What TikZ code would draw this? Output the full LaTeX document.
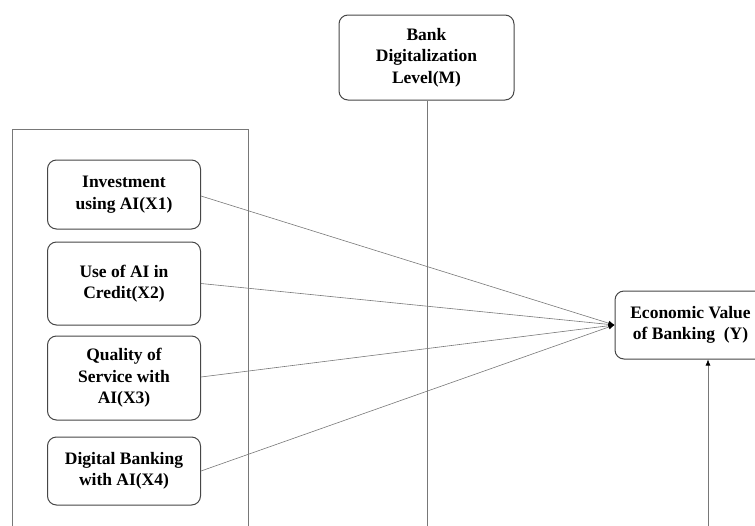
\documentclass[tikz,border=0pt]{standalone}
\usepackage{fontspec}
\setmainfont{Liberation Serif}
\usetikzlibrary{positioning, arrows.meta, calc}
\definecolor{boxline}{RGB}{70,70,70}
\definecolor{linkline}{RGB}{120,120,120}

\begin{document}
\begin{tikzpicture}[x=1pt, y=-1pt,
    varbox/.style={draw=boxline, fill=white, line width=1pt, rounded corners=9pt,
      align=center, inner sep=0pt, font=\fontsize{17.5}{21.5}\selectfont\bfseries},
    link/.style={draw=linkline, line width=0.6pt},
    tip/.style={-{Latex[length=6pt, width=5pt, color=black]}},
    framebox/.style={draw=linkline, line width=1pt}]
        \useasboundingbox (0,0) rectangle (755,525);
        \clip (0,0) rectangle (755,525);

        % Moderator
        \node[varbox, minimum width=175pt, minimum height=85pt] (m) at (426.5,57.5)
            {Bank\\Digitalization\\Level(M)};

        % Group of independent variables
        \draw[framebox] (12,129) rectangle (248,560);

        \node[varbox, minimum width=153pt, minimum height=69pt] (x1) at (124,194.5)
            {Investment\\using AI(X1)};
        \node[varbox, minimum width=153pt, minimum height=83pt] (x2) at (124,283.5)
            {Use of AI in\\Credit(X2)};
        \node[varbox, minimum width=153pt, minimum height=84pt] (x3) at (124,378)
            {Quality of\\Service with\\AI(X3)};
        \node[varbox, minimum width=153pt, minimum height=68pt] (x4) at (124,471)
            {Digital Banking\\with AI(X4)};

        % Dependent variable
        \node[varbox, minimum width=151pt, minimum height=68pt] (y) at (690.5,325)
            {Economic Value\\of Banking\ \ (Y)};

        % Paths
        \draw[link, tip] ($(x1.east)+(0,1.5)$) -- (y.west);
        \draw[link, tip] (x2.east) -- (y.west);
        \draw[link, tip] ($(x3.east)+(0,-1)$) -- (y.west);
        \draw[link, tip] (x4.east) -- (y.west);

        \coordinate (mend) at (427,540);
        \draw[link] (m.south -| mend) -- (mend);

        \coordinate (yend) at (708,540);
        \draw[link, tip] (yend) -- (yend |- y.south);
    \end{tikzpicture}
\end{document}
